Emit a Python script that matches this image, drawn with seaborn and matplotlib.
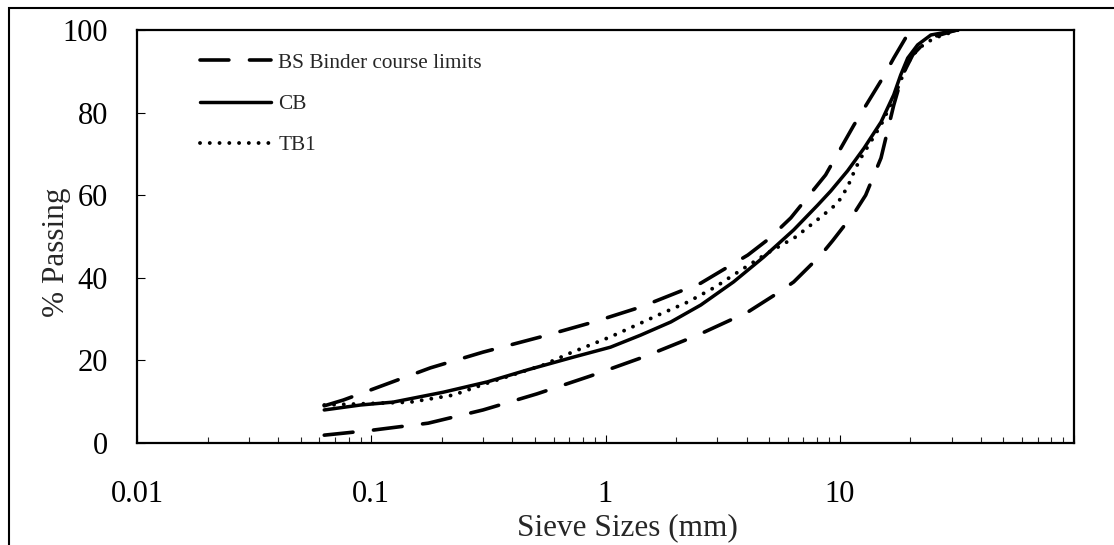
import numpy as np
import pandas as pd
import matplotlib
matplotlib.use("Agg")
import matplotlib.pyplot as plt
import seaborn as sns
from matplotlib.ticker import FixedLocator, LogLocator, NullFormatter, FixedFormatter
from matplotlib.patches import Rectangle

# ---- data (sieve size in mm, % passing) ----
upper_sizes = [0.063, 0.076, 0.179, 0.30, 0.53, 0.89, 1.41, 2.55, 4.05, 5.0, 6.18, 8.7, 11.5, 15.3, 17.0, 20.0]
upper_pass = [9, 10.4, 18.2, 22, 25.7, 29.3, 32.9, 38.7, 45.5, 49.5, 54.5, 64.9, 77, 88.5, 93.2, 100]

lower_sizes = [0.063, 0.101, 0.175, 0.30, 0.51, 0.86, 1.45, 2.47, 4.05, 5.43, 6.36, 8.3, 9.33, 11.6,
               12.9, 15.0, 17.0, 18.5, 20.5, 24, 31.5]
lower_pass = [1.9, 3.1, 4.8, 8, 11.9, 16.2, 20.8, 26.1, 31.7, 36.3, 39, 45.5, 49, 55.9,
              60, 69, 81.8, 89, 94, 98, 100]

cb_sizes = [0.063, 0.090, 0.124, 0.203, 0.313, 0.464, 0.73, 1.05, 1.41, 1.90, 2.55, 3.52, 4.73, 6.36,
            8.05, 9.15, 10.8, 12.7, 15.0, 17.0, 18.2, 19.5, 21.5, 24.5, 32]
cb_pass = [8, 9.2, 9.9, 12.3, 14.8, 17.7, 20.8, 23.2, 26.1, 29.3, 33.4, 39, 45, 51.6,
           57.6, 61.0, 65.9, 71.4, 77.7, 84.3, 89.1, 93.2, 96.4, 98.8, 100]

tb1_sizes = [0.063, 0.081, 0.147, 0.224, 0.313, 0.543, 0.708, 1.05, 1.41, 1.68, 2.24, 2.95, 3.52, 4.92,
             6.49, 8.30, 9.80, 10.8, 11.7, 12.3, 15.0, 17.0, 19.5, 21.6, 25.2, 32]
tb1_pass = [9.2, 9.4, 9.9, 11.6, 14.5, 18.9, 21.8, 25.7, 29, 31, 34.1, 37.8, 40.7, 46,
            49.9, 54.7, 58.1, 62, 66.6, 69, 77, 83.5, 92, 95.5, 98, 100]

x_ticks = [0.01, 0.1, 1, 10, 100]
x_tick_labels = ["0.01", "0.1", "1", "10", ""]
y_ticks = [0, 20, 40, 60, 80, 100]

sns.set_style("ticks")
plt.rcParams["font.family"] = ["Liberation Serif", "DejaVu Serif"]

fig = plt.figure(figsize=(11.14, 5.45), dpi=100)
ax = fig.add_axes([137 / 1114, 1 - 443 / 545, (1074 - 137) / 1114, (443 - 30) / 545])

dash_ls = (0, (8, 5.7))
dot_ls = (0, (0.01, 2.5))

sns.lineplot(x=upper_sizes, y=upper_pass, ax=ax, color="black", lw=2.6, linestyle=dash_ls,
             dash_capstyle="round", label="BS Binder course limits", sort=False)
sns.lineplot(x=lower_sizes, y=lower_pass, ax=ax, color="black", lw=2.6, linestyle=dash_ls,
             dash_capstyle="round", sort=False)
sns.lineplot(x=cb_sizes, y=cb_pass, ax=ax, color="black", lw=2.5, linestyle="-",
             label="CB", sort=False)
sns.lineplot(x=tb1_sizes, y=tb1_pass, ax=ax, color="black", lw=2.8, linestyle=dot_ls,
             dash_capstyle="round", label="TB1", sort=False)

ax.set_xscale("log")
ax.set_xlim(0.01, 100)
ax.set_ylim(0, 100)
ax.xaxis.set_major_locator(FixedLocator(x_ticks))
ax.xaxis.set_major_formatter(FixedFormatter(x_tick_labels))
ax.xaxis.set_minor_locator(LogLocator(base=10, subs=np.arange(2, 10)))
ax.xaxis.set_minor_formatter(NullFormatter())
ax.yaxis.set_major_locator(FixedLocator(y_ticks))

for s in ax.spines.values():
    s.set_visible(True)
    s.set_linewidth(1.6)
    s.set_color("black")

ax.tick_params(axis="x", which="major", direction="in", length=6, width=0.8, pad=27,
               labelsize=22, colors="black")
ax.tick_params(axis="x", which="minor", direction="in", length=4.5, width=0.8)
ax.tick_params(axis="y", which="major", direction="in", length=6, width=0.8, pad=21,
               labelsize=22, colors="black")

ax.set_xlabel("Sieve Sizes (mm)", fontsize=22.5)
ax.set_ylabel("% Passing", fontsize=22.5)
ax.xaxis.set_label_coords(0.523, -0.206)
ax.xaxis.label.set_va("center")
ax.yaxis.set_label_coords(-0.0854, 0.4625)
ax.yaxis.label.set_va("center")

leg = ax.legend(loc="upper left", bbox_to_anchor=(200 / 1114, 1 - 53 / 545),
                bbox_transform=fig.transFigure, frameon=False, fontsize=15.3,
                handlelength=3.35, handletextpad=0.33, labelspacing=1.0,
                borderpad=0, borderaxespad=0)

fig.patches.append(Rectangle((8.5 / 1114, -0.5), 2.0, 1.5 - 7.5 / 545, transform=fig.transFigure,
                             fill=False, lw=1.5, edgecolor="black"))

fig.savefig("out.png", dpi=100)
